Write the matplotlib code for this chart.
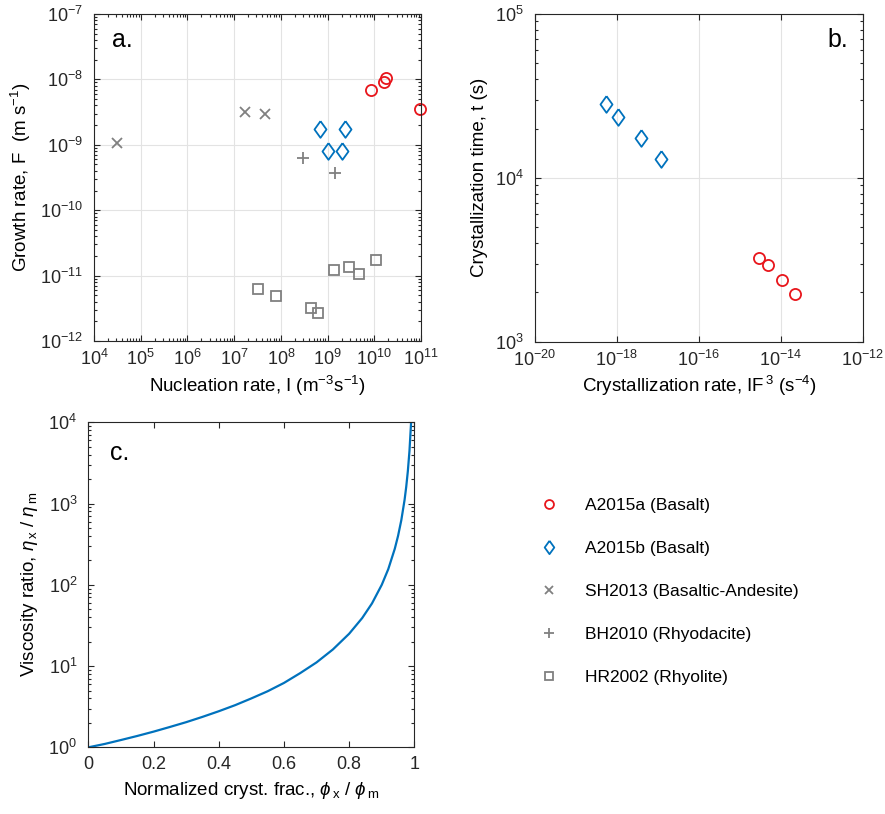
import numpy as np
import matplotlib
matplotlib.use("Agg")
import matplotlib.pyplot as plt
from matplotlib.ticker import LogLocator, NullFormatter, FixedLocator

plt.rcParams["font.family"] = ["Liberation Sans", "DejaVu Sans"]
plt.rcParams["mathtext.fontset"] = "custom"
plt.rcParams["mathtext.rm"] = "Liberation Sans"
plt.rcParams["mathtext.it"] = "Liberation Sans:italic"
plt.rcParams["mathtext.sf"] = "Liberation Sans"
plt.rcParams["axes.edgecolor"] = "#262626"
plt.rcParams["xtick.color"] = "#262626"
plt.rcParams["ytick.color"] = "#262626"

RED = "#e8151b"
BLUE = "#0072bd"
GRAY = "#808080"

# panel a: nucleation rate I (m^-3 s^-1) vs growth rate F (m s^-1)
a15a_I = [8.49e9, 1.64e10, 1.81e10, 9.68e10]
a15a_F = [6.87e-9, 9.0e-9, 1.06e-8, 3.56e-9]
a15b_I = [6.75e8, 2.39e9, 1.03e9, 2.06e9]
a15b_F = [1.74e-9, 1.74e-9, 8.0e-10, 8.0e-10]
sh13_I = [3.06e4, 1.69e7, 4.69e7]
sh13_F = [1.07e-9, 3.16e-9, 2.98e-9]
bh10_I = [2.91e8, 1.46e9]
bh10_F = [6.25e-10, 3.68e-10]
hr02_I = [3.32e7, 7.82e7, 4.40e8, 6.31e8, 1.37e9, 2.86e9, 4.78e9, 1.09e10]
hr02_F = [6.25e-12, 4.89e-12, 3.2e-12, 2.69e-12, 1.21e-11, 1.36e-11,
          1.06e-11, 1.74e-11]

# panel b: crystallization rate IF^3 (s^-4) vs crystallization time (s)
b_a15a_rate = [2.99e-15, 4.88e-15, 1.07e-14, 2.26e-14]
b_a15a_t = [3260, 2940, 2380, 1960]
b_a15b_rate = [5.41e-19, 1.08e-18, 3.79e-18, 1.19e-17]
b_a15b_t = [28100, 23600, 17400, 13000]

# panel c: viscosity ratio vs normalized crystal fraction
phi = [0, 0.05, 0.1, 0.15, 0.2, 0.25, 0.3, 0.35, 0.4, 0.45, 0.5, 0.55,
       0.6, 0.65, 0.7, 0.75, 0.8, 0.84, 0.87, 0.9, 0.92, 0.94, 0.95,
       0.96, 0.97, 0.975, 0.98, 0.985, 0.99]
visc = [1.0, 1.1, 1.23, 1.38, 1.56, 1.78, 2.04, 2.37, 2.78, 3.3, 4.0,
        4.9, 6.2, 8.2, 11.1, 16, 25, 39, 59, 100, 156, 278, 400, 625,
        1110, 1600, 2500, 4440, 10000]

labels = ["A2015a (Basalt)", "A2015b (Basalt)",
          "SH2013 (Basaltic-Andesite)", "BH2010 (Rhyodacite)",
          "HR2002 (Rhyolite)"]

# MATLAB-like diamond, a bit narrower than tall
DIAMOND = [(0, 1), (0.72, 0), (0, -1), (-0.72, 0), (0, 1)]


def style(ax, grid=True):
    ax.tick_params(which="both", direction="in", top=True, right=True,
                   labelsize=13, width=0.8)
    ax.tick_params(which="major", length=4.5)
    ax.tick_params(which="minor", length=2.5)
    ax.tick_params(axis="x", which="both", pad=6)
    ax.tick_params(axis="y", which="both", pad=8)
    for s in ax.spines.values():
        s.set_linewidth(0.8)
    if grid:
        ax.grid(True, which="major", color="#e3e3e3", lw=0.8)
        ax.set_axisbelow(True)


fig = plt.figure(figsize=(8.85, 8.14), dpi=100)
ax1 = fig.add_axes([0.1062, 0.5811, 0.3695, 0.4017])
ax2 = fig.add_axes([0.6045, 0.5802, 0.3703, 0.4026])
ax3 = fig.add_axes([0.0998, 0.0819, 0.3684, 0.3993])

mk = dict(linestyle="none", mfc="none", mew=1.3, clip_on=False)
h1, = ax1.plot(a15a_I, a15a_F, "o", color=RED, ms=8, **mk)
h2, = ax1.plot(a15b_I, a15b_F, marker=DIAMOND, color=BLUE, ms=12, **mk)
h3, = ax1.plot(sh13_I, sh13_F, "x", color=GRAY, ms=7, **mk)
h4, = ax1.plot(bh10_I, bh10_F, "+", color=GRAY, ms=9, **mk)
h5, = ax1.plot(hr02_I, hr02_F, "s", color=GRAY, ms=6.5, **mk)
ax1.set_xscale("log")
ax1.set_yscale("log")
ax1.set_xlim(1e4, 1e11)
ax1.set_ylim(1e-12, 1e-7)
ax1.xaxis.set_major_locator(LogLocator(base=10, numticks=20))
ax1.xaxis.set_minor_locator(LogLocator(base=10, subs=np.arange(2, 10), numticks=20))
ax1.xaxis.set_minor_formatter(NullFormatter())
style(ax1)
ax1.set_xlabel(r"Nucleation rate, I (m$^{-3}$s$^{-1}$)", fontsize=13.5, labelpad=3)
ax1.set_ylabel(r"Growth rate, F  (m s$^{-1}$)", fontsize=13.5, labelpad=5)
ax1.text(0.054, 0.92, "a.", transform=ax1.transAxes, fontsize=18,
         va="center", ha="left")

ax2.plot(b_a15a_rate, b_a15a_t, "o", color=RED, ms=8, **mk)
ax2.plot(b_a15b_rate, b_a15b_t, marker=DIAMOND, color=BLUE, ms=12, **mk)
ax2.set_xscale("log")
ax2.set_yscale("log")
ax2.set_xlim(1e-20, 1e-12)
ax2.set_ylim(1e3, 1e5)
ax2.xaxis.set_major_locator(FixedLocator([1e-20, 1e-18, 1e-16, 1e-14, 1e-12]))
ax2.xaxis.set_minor_locator(FixedLocator([]))
style(ax2)
ax2.set_xlabel(r"Crystallization rate, IF$^{\,3}$ (s$^{-4}$)", fontsize=13.5, labelpad=3)
ax2.set_ylabel("Crystallization time, t (s)", fontsize=13.5, labelpad=5)
ax2.text(0.955, 0.92, "b.", transform=ax2.transAxes, fontsize=18,
         va="center", ha="right")

ax3.plot(phi, visc, color=BLUE, lw=1.6)
ax3.set_yscale("log")
ax3.set_xlim(0, 1)
ax3.set_ylim(1, 1e4)
ax3.set_xticks([0, 0.2, 0.4, 0.6, 0.8, 1])
ax3.set_xticklabels(["0", "0.2", "0.4", "0.6", "0.8", "1"])
style(ax3, grid=False)
ax3.set_xlabel(r"Normalized cryst. frac., $\phi_{\,\mathrm{x}}$ / $\phi_{\,\mathrm{m}}$",
               fontsize=13.5, labelpad=5)
ax3.set_ylabel(r"Viscosity ratio, $\eta_{\,\mathrm{x}}$ / $\eta_{\,\mathrm{m}}$",
               fontsize=13.5, labelpad=6)
ax3.text(0.067, 0.906, "c.", transform=ax3.transAxes, fontsize=18,
         va="center", ha="left")

fig.legend([h1, h2, h3, h4, h5], labels, loc="upper left",
           bbox_to_anchor=(0.583, 0.407), frameon=False, fontsize=12.5,
           labelspacing=1.6, handletextpad=1.1, markerscale=0.8)

fig.savefig("out.png", dpi=100)
